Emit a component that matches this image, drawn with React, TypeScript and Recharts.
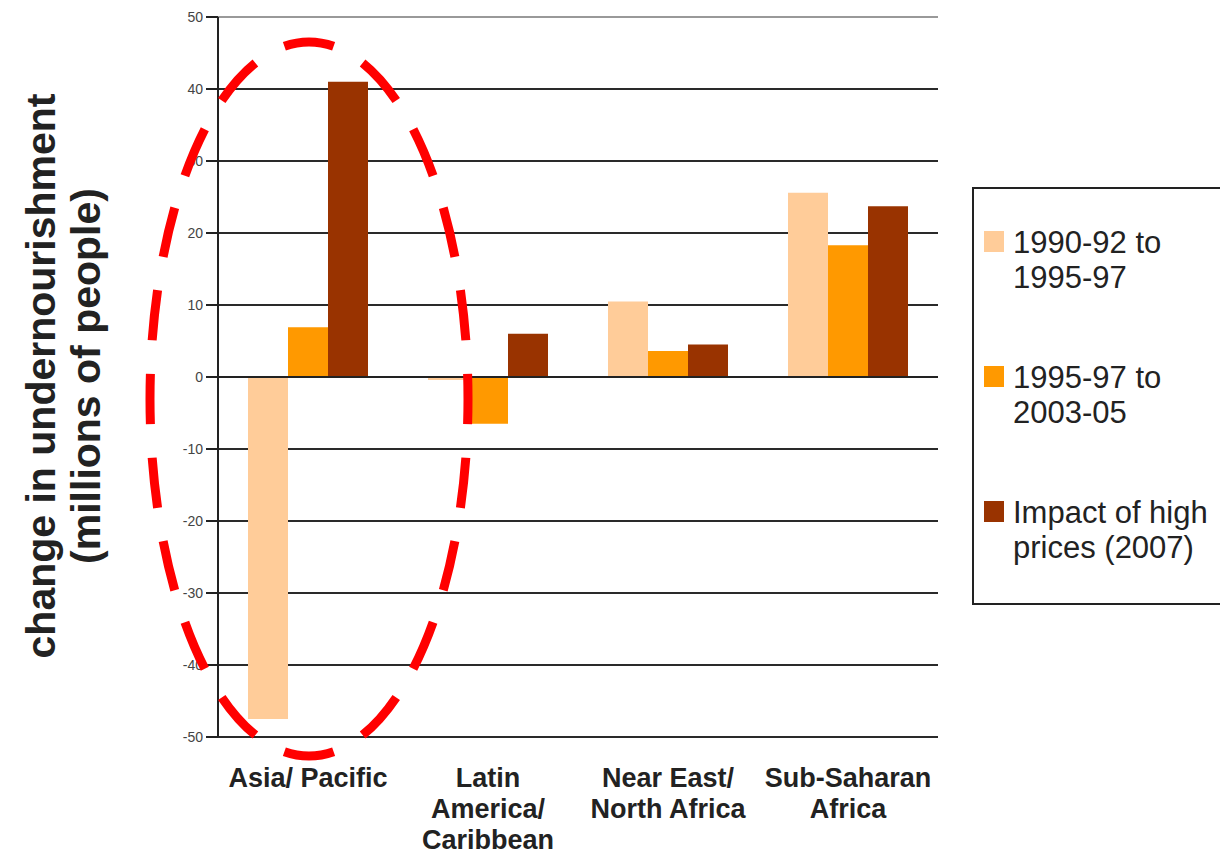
import React from 'react';
import { BarChart, Bar, XAxis, YAxis, CartesianGrid, ReferenceLine } from 'recharts';

// ---- data ----
const regionLabels: string[][] = [
  ['Asia/ Pacific'],
  ['Latin', 'America/', 'Caribbean'],
  ['Near East/', 'North Africa'],
  ['Sub-Saharan', 'Africa'],
];
const regionNames = ['Asia/ Pacific', 'Latin America/ Caribbean', 'Near East/ North Africa', 'Sub-Saharan Africa'];
const change1990to1997 = [-47.5, -0.4, 10.5, 25.6];
const change1997to2005 = [6.9, -6.5, 3.6, 18.3];
const impactHighPrices2007 = [41, 6, 4.5, 23.7];
const seriesKeys = ['s1', 's2', 's3'];
const seriesColors = ['#FFCC99', '#FF9900', '#993300'];
const legendLines: string[][] = [
  ['1990-92 to', '1995-97'],
  ['1995-97 to', '2003-05'],
  ['Impact of high', 'prices (2007)'],
];
const yTicks = [-50, -40, -30, -20, -10, 0, 10, 20, 30, 40, 50];
const boundaryTicks = [0, 1, 2, 3, 4];
const yTitleLines = ['change in undernourishment', '(millions of people)'];

const data = regionNames.map((name, i) => ({
  name,
  s1: change1990to1997[i],
  s2: change1997to2005[i],
  s3: impactHighPrices2007[i],
}));

const FONT = '"Liberation Sans", Arial, sans-serif';

const CategoryTick = (props: any) => {
  const { x, y, payload } = props;
  const lines = regionLabels[payload.index] || [payload.value];
  return (
    <g>
      {lines.map((l: string, k: number) => (
        <text
          key={k}
          x={x}
          y={y + 42 + k * 31}
          textAnchor="middle"
          fontFamily={FONT}
          fontWeight="bold"
          fontSize={27}
          fill="#222"
        >
          {l}
        </text>
      ))}
    </g>
  );
};

const YTitle = () => (
  <g>
    <text
      transform="translate(55,376) rotate(-90)"
      textAnchor="middle"
      fontFamily={FONT}
      fontWeight="bold"
      fontSize={41}
      fill="#222"
    >
      {yTitleLines[0]}
    </text>
    <text
      transform="translate(100,376) rotate(-90)"
      textAnchor="middle"
      fontFamily={FONT}
      fontWeight="bold"
      fontSize={41}
      fill="#222"
    >
      {yTitleLines[1]}
    </text>
  </g>
);

export default function App() {
  return (
    <div style={{ position: 'absolute', left: 0, top: 0, width: 1220, height: 855, background: '#fff' }}>
      <BarChart
        width={1220}
        height={855}
        data={data}
        margin={{ top: 17, right: 282, bottom: 0, left: 0 }}
        barCategoryGap={30}
        barGap={0}
      >
        <CartesianGrid vertical={false} stroke="#2a2a2a" strokeWidth={2} yAxisId="y" xAxisId="cat" />
        <XAxis
          xAxisId="b"
          type="number"
          domain={[0, 4]}
          ticks={boundaryTicks}
          tick={false}
          tickSize={11}
          height={0}
          axisLine={{ stroke: '#222', strokeWidth: 2 }}
          tickLine={{ stroke: '#222', strokeWidth: 2 }}
        />
        <XAxis
          xAxisId="cat"
          dataKey="name"
          height={118}
          axisLine={false}
          tickLine={false}
          tick={<CategoryTick />}
          interval={0}
        />
        <YAxis
          yAxisId="y"
          width={218}
          domain={[-50, 50]}
          ticks={yTicks}
          interval={0}
          tickSize={12}
          tickMargin={3}
          axisLine={{ stroke: '#222', strokeWidth: 2 }}
          tickLine={{ stroke: '#222', strokeWidth: 2 }}
          tick={{ fontSize: 14, fontFamily: FONT, fill: '#444' }}
          label={{ content: () => <YTitle /> }}
        />
        <ReferenceLine yAxisId="y" xAxisId="cat" y={50} stroke="#999" strokeWidth={2} />
        <ReferenceLine yAxisId="y" xAxisId="b" x={4} stroke="#999" strokeWidth={2} />
        {seriesKeys.map((k, i) => (
          <Bar
            key={k}
            dataKey={k}
            xAxisId="cat"
            yAxisId="y"
            fill={seriesColors[i]}
            isAnimationActive={false}
          />
        ))}
        <ReferenceLine yAxisId="y" xAxisId="cat" y={0} stroke="#222" strokeWidth={2} />
      </BarChart>

      {/* legend */}
      <div
        style={{
          position: 'absolute',
          left: 972,
          top: 187,
          width: 270,
          height: 418,
          border: '2px solid #222',
          background: '#fff',
          fontFamily: FONT,
          fontSize: 31,
          color: '#222',
          boxSizing: 'border-box',
        }}
      >
        {legendLines.map((lines, i) => (
          <div key={i} style={{ position: 'absolute', left: 10, top: 36 + i * 135, display: 'flex' }}>
            <div style={{ width: 20, height: 21, background: seriesColors[i], marginTop: 6, marginRight: 9 }} />
            <div style={{ lineHeight: '35px', whiteSpace: 'nowrap' }}>
              {lines.map((l, k) => (
                <div key={k}>{l}</div>
              ))}
            </div>
          </div>
        ))}
      </div>

      {/* annotation ellipse */}
      <svg
        width={1220}
        height={855}
        style={{ position: 'absolute', left: 0, top: 0, pointerEvents: 'none' }}
      >
        <ellipse
          cx={309}
          cy={399}
          rx={159}
          ry={357}
          fill="none"
          stroke="#FF0000"
          strokeWidth={9}
          pathLength={2000}
          strokeDasharray="60 40"
          strokeDashoffset={30}
        />
      </svg>
    </div>
  );
}
